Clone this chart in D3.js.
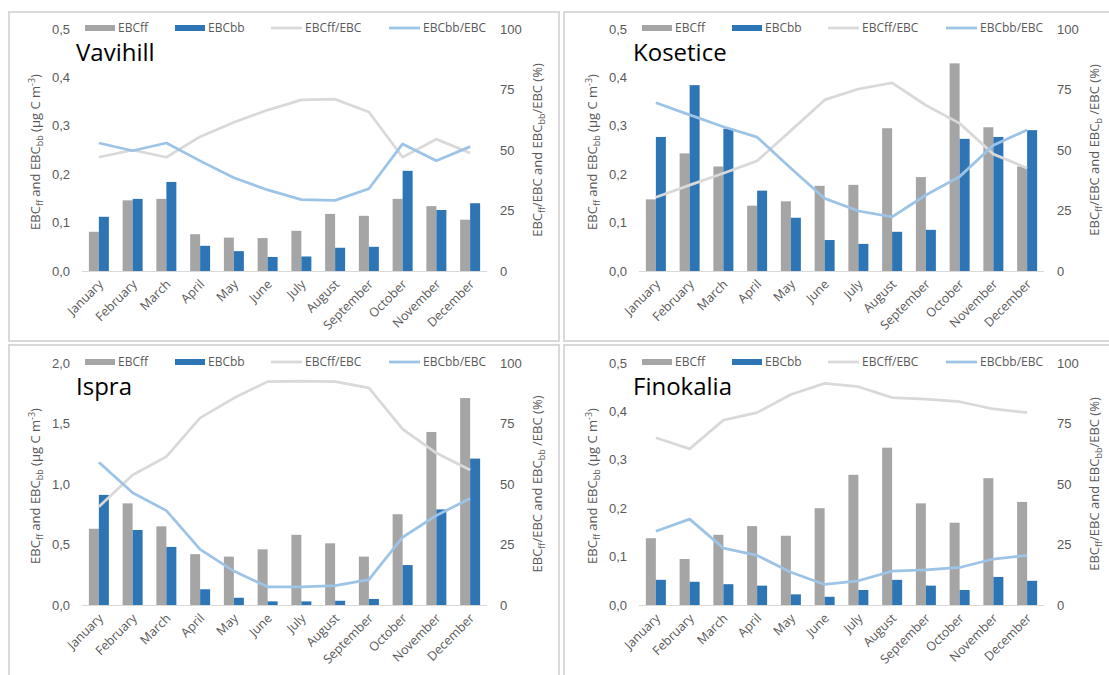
<!DOCTYPE html>
<html>
<head>
<meta charset="utf-8">
<script src="https://cdn.jsdelivr.net/npm/d3@7"></script>
<style>
  html, body { margin: 0; padding: 0; background: #fff; }
  svg { display: block; font-family: "Open Sans", "Noto Sans", sans-serif; }
</style>
</head>
<body>
<svg id="chart" width="1109" height="675"></svg>
<script>
// Month categories shared by all four stations
const months = ["January","February","March","April","May","June","July","August","September","October","November","December"];

// Vavihill
const vavihillFF = [0.081,0.146,0.149,0.076,0.069,0.068,0.083,0.118,0.114,0.149,0.134,0.106];
const vavihillBB = [0.112,0.149,0.184,0.052,0.041,0.029,0.030,0.048,0.050,0.207,0.126,0.140];
const vavihillFFpct = [47,50,47,55.5,61.5,66.5,70.7,71,65.7,47,54.5,48.8];
const vavihillBBpct = [52.9,49.7,52.9,45.5,38.5,33.5,29.5,29.2,34,52.5,45.6,51.4];

// Kosetice
const koseticeFF = [0.148,0.243,0.216,0.135,0.144,0.176,0.178,0.295,0.194,0.429,0.297,0.216];
const koseticeBB = [0.277,0.384,0.294,0.166,0.110,0.064,0.056,0.081,0.085,0.273,0.277,0.291];
const koseticeFFpct = [30.5,35.5,40.4,45.5,58,70.7,75.2,77.7,68.5,61,48.3,42.5];
const koseticeBBpct = [69.5,64.5,59.6,55.3,42.5,30,24.8,22.4,31.4,39,52,58.3];

// Ispra
const ispraFF = [0.63,0.84,0.65,0.42,0.40,0.46,0.58,0.51,0.40,0.75,1.43,1.71];
const ispraBB = [0.91,0.62,0.48,0.13,0.06,0.03,0.03,0.035,0.05,0.33,0.79,1.21];
const ispraFFpct = [40.6,53.7,61.3,77.3,85.5,92.3,92.5,92.3,89.7,72.7,62.8,55.8];
const ispraBBpct = [59,46.4,39,23,14,7.5,7.5,8,10.5,28,37,44];

// Finokalia
const finokaliaFF = [0.138,0.095,0.145,0.163,0.143,0.200,0.269,0.325,0.210,0.170,0.262,0.213];
const finokaliaBB = [0.052,0.048,0.043,0.040,0.022,0.017,0.031,0.052,0.040,0.031,0.058,0.050];
const finokaliaFFpct = [69.1,64.5,76.4,79.5,87,91.6,90.2,85.7,85.1,84,81,79.5];
const finokaliaBBpct = [30.5,35.5,23.5,20.5,13.5,8.5,10,14,14.5,15.5,19,20.5];

// Axis tick labels
const leftTicksSmall = [0, 0.1, 0.2, 0.3, 0.4, 0.5];
const leftTicksLarge = [0, 0.5, 1.0, 1.5, 2.0];
const rightTicks = [0, 25, 50, 75, 100];

// Legend entries
const legendLabels = ["EBCff", "EBCbb", "EBCff/EBC", "EBCbb/EBC"];

const colors = { ff: "#A5A5A5", bb: "#2E75B6", ffLine: "#D9D9D9", bbLine: "#9DC3E6", text: "#595959" };

const panels = [
  { name: "Vavihill",  ox: 0,   oy: 0,   ff: vavihillFF,  bb: vavihillBB,  ffp: vavihillFFpct,  bbp: vavihillBBpct,  ymax: 0.5, ticks: leftTicksSmall, bbSub: "bb", bbGap: "" },
  { name: "Kosetice",  ox: 557, oy: 0,   ff: koseticeFF,  bb: koseticeBB,  ffp: koseticeFFpct,  bbp: koseticeBBpct,  ymax: 0.5, ticks: leftTicksSmall, bbSub: "b",  bbGap: " " },
  { name: "Ispra",     ox: 0,   oy: 334, ff: ispraFF,     bb: ispraBB,     ffp: ispraFFpct,     bbp: ispraBBpct,     ymax: 2.0, ticks: leftTicksLarge, bbSub: "bb", bbGap: " " },
  { name: "Finokalia", ox: 557, oy: 334, ff: finokaliaFF, bb: finokaliaBB, ffp: finokaliaFFpct, bbp: finokaliaBBpct, ymax: 0.5, ticks: leftTicksSmall, bbSub: "bb", bbGap: "" }
];

const svg = d3.select("#chart");

// Panel frames
const frames = [
  { x: 9, y: 12, w: 550, h: 329 },
  { x: 564, y: 12, w: 560, h: 329 },
  { x: 9, y: 345, w: 550, h: 340 },
  { x: 564, y: 345, w: 560, h: 340 }
];
svg.selectAll("rect.frame").data(frames).join("rect")
  .attr("class", "frame")
  .attr("x", d => d.x).attr("y", d => d.y)
  .attr("width", d => d.w).attr("height", d => d.h)
  .attr("fill", "none").attr("stroke", "#D9D9D9").attr("stroke-width", 2);

const fmt = v => (v.toFixed(1)).replace(".", ",");

panels.forEach(p => {
  const g = svg.append("g").attr("transform", `translate(${p.ox},${p.oy})`);
  const x0 = 82, x1 = 487, yTop = 29, yBot = 271;

  const x = d3.scaleBand().domain(months).range([x0, x1]).paddingInner(0).paddingOuter(0);
  const xs = d3.scaleBand().domain(["ff", "bb"]).range([0, x.bandwidth()]).paddingInner(0).paddingOuter(0.6875);
  const y = d3.scaleLinear().domain([0, p.ymax]).range([yBot, yTop]);
  const yr = d3.scaleLinear().domain([0, 100]).range([yBot, yTop]);

  // Left axis labels
  const leftAxis = d3.axisLeft(y).tickValues(p.ticks).tickFormat(fmt).tickSize(0).tickPadding(12);
  const la = g.append("g").attr("transform", `translate(${x0},0)`).call(leftAxis);
  la.select(".domain").remove();
  la.selectAll("text").attr("fill", colors.text).style("font-size", "13px").attr("font-family", null);

  // Right axis labels
  const rightAxis = d3.axisRight(yr).tickValues(rightTicks).tickFormat(d3.format("d")).tickSize(0).tickPadding(13);
  const ra = g.append("g").attr("transform", `translate(${x1},0)`).call(rightAxis);
  ra.select(".domain").remove();
  ra.selectAll("text").attr("fill", colors.text).style("font-size", "13px").attr("font-family", null);

  // Bars
  const rows = months.map((m, i) => ({ m, ff: p.ff[i], bb: p.bb[i] }));
  const grp = g.append("g").selectAll("g").data(rows).join("g")
    .attr("transform", d => `translate(${x(d.m)},0)`);
  grp.selectAll("rect").data(d => [{ k: "ff", v: d.ff }, { k: "bb", v: d.bb }]).join("rect")
    .attr("x", d => xs(d.k))
    .attr("width", xs.bandwidth())
    .attr("y", d => y(d.v))
    .attr("height", d => yBot - y(d.v))
    .attr("fill", d => colors[d.k]);

  // Category axis baseline and labels
  g.append("line").attr("x1", x0).attr("x2", x1).attr("y1", yBot + 0.5).attr("y2", yBot + 0.5)
    .attr("stroke", "#D9D9D9").attr("stroke-width", 1);
  g.append("g").selectAll("text").data(months).join("text")
    .attr("transform", d => `translate(${x(d) + x.bandwidth() / 2 + 5},${yBot + 14}) rotate(-45)`)
    .attr("text-anchor", "end")
    .attr("fill", colors.text)
    .style("font-size", "12.5px")
    .text(d => d);

  // Percentage lines
  const line = d3.line().x((d, i) => x(months[i]) + x.bandwidth() / 2).y(d => yr(d));
  g.append("path").datum(p.ffp).attr("d", line).attr("fill", "none")
    .attr("stroke", colors.ffLine).attr("stroke-width", 2.75).attr("stroke-linejoin", "round");
  g.append("path").datum(p.bbp).attr("d", line).attr("fill", "none")
    .attr("stroke", colors.bbLine).attr("stroke-width", 2.75).attr("stroke-linejoin", "round");

  // Station name
  g.append("text").attr("x", 76).attr("y", 61).attr("fill", "#000")
    .style("font-size", "24px").text(p.name);

  // Legend
  const leg = g.append("g").attr("transform", "translate(0,28)");
  const items = [
    { x: 85, type: "rect", c: colors.ff, label: legendLabels[0] },
    { x: 175, type: "rect", c: colors.bb, label: legendLabels[1] },
    { x: 271, type: "line", c: colors.ffLine, label: legendLabels[2] },
    { x: 389, type: "line", c: colors.bbLine, label: legendLabels[3] }
  ];
  items.forEach(it => {
    if (it.type === "rect") {
      leg.append("rect").attr("x", it.x).attr("y", -3).attr("width", 30).attr("height", 6).attr("fill", it.c);
    } else {
      leg.append("line").attr("x1", it.x).attr("x2", it.x + 31).attr("y1", 0).attr("y2", 0)
        .attr("stroke", it.c).attr("stroke-width", 2.75);
    }
    leg.append("text").attr("x", it.x + (it.type === "rect" ? 33 : 34)).attr("y", 0).attr("dy", "0.35em")
      .attr("fill", colors.text).style("font-size", "12px").text(it.label);
  });

  // Left axis title
  const lt = g.append("text").attr("transform", "translate(40,152) rotate(-90)")
    .attr("text-anchor", "middle").attr("fill", colors.text).style("font-size", "13px");
  lt.append("tspan").text("EBC");
  lt.append("tspan").attr("dy", 3).style("font-size", "9px").text("ff");
  lt.append("tspan").attr("dy", -3).text(" and EBC");
  lt.append("tspan").attr("dy", 3).style("font-size", "9px").text("bb");
  lt.append("tspan").attr("dy", -3).text(" (µg C m");
  lt.append("tspan").attr("dy", -5).style("font-size", "9px").text("-3");
  lt.append("tspan").attr("dy", 5).text(")");

  // Right axis title
  const rt = g.append("text").attr("transform", "translate(542,150) rotate(-90)")
    .attr("text-anchor", "middle").attr("fill", colors.text).style("font-size", "13px");
  rt.append("tspan").text("EBC");
  rt.append("tspan").attr("dy", 3).style("font-size", "9px").text("ff");
  rt.append("tspan").attr("dy", -3).text("/EBC and EBC");
  rt.append("tspan").attr("dy", 3).style("font-size", "9px").text(p.bbSub);
  rt.append("tspan").attr("dy", -3).text(p.bbGap + "/EBC (%)");
});
</script>
</body>
</html>
